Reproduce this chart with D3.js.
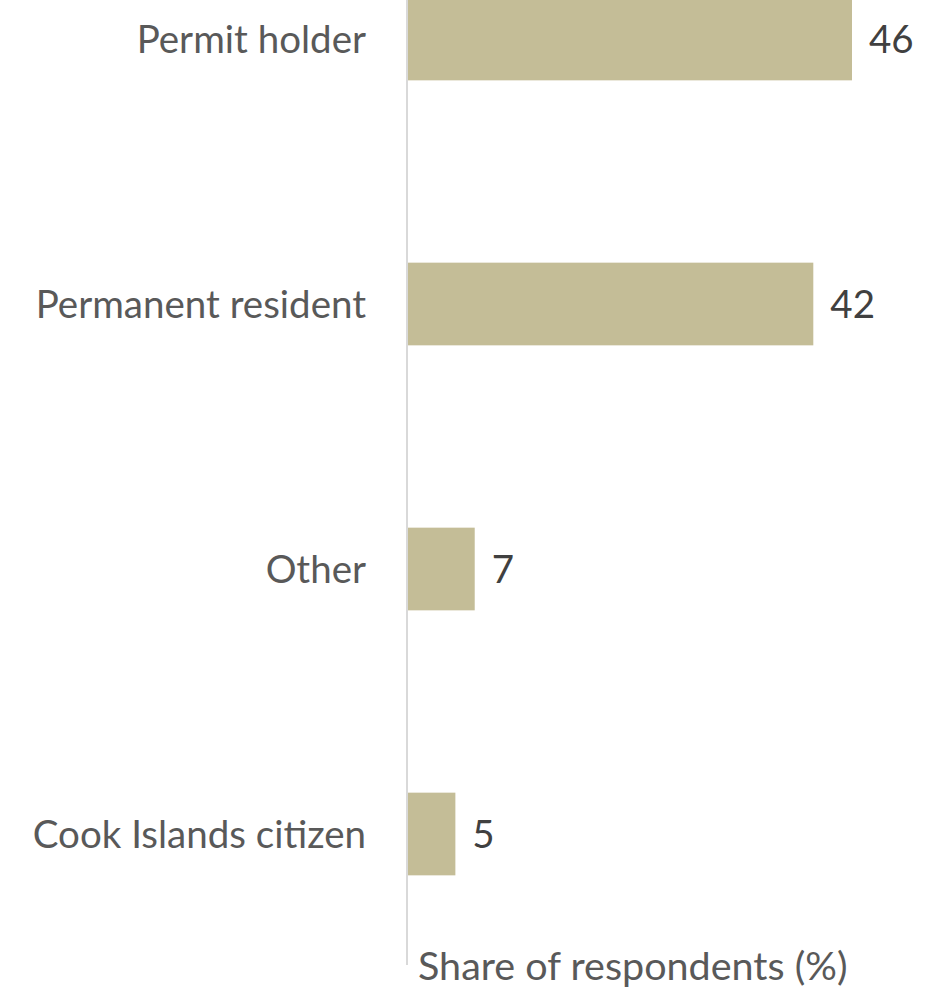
<!DOCTYPE html>
<html>
<head>
<meta charset="utf-8">
<script src="https://cdn.jsdelivr.net/npm/d3@7"></script>
<style>
  html, body { margin: 0; padding: 0; background: #fff; }
  svg { display: block; }
  text { font-family: Lato, "Open Sans", sans-serif; fill: #595959; }
</style>
</head>
<body>
<svg id="chart" width="946" height="991"></svg>
<script>
// Residency status of respondents
const categories = ["Permit holder", "Permanent resident", "Other", "Cook Islands citizen"];
const shares = [46, 42, 7, 5];
const axisTitle = "Share of respondents (%)";

const W = 946, H = 991;
const x0 = 407;
const svg = d3.select("#chart");

const x = d3.scaleLinear().domain([0, 46]).range([x0, x0 + 445]);
const y = d3.scaleBand()
  .domain(categories)
  .range([-93.5, 966.5])
  .paddingInner(0.688)
  .paddingOuter(0.344);

// bars
svg.append("g").selectAll("rect")
  .data(categories)
  .join("rect")
  .attr("x", x(0) + 1)
  .attr("y", d => y(d))
  .attr("width", (d, i) => x(shares[i]) - x(0) - 1)
  .attr("height", y.bandwidth())
  .attr("fill", "#c4bd97");

// vertical axis line
svg.append("line")
  .attr("x1", x0).attr("x2", x0)
  .attr("y1", 0).attr("y2", 965)
  .attr("stroke", "#d9d9d9")
  .attr("stroke-width", 2);

// category labels
svg.append("g").selectAll("text")
  .data(categories)
  .join("text")
  .attr("x", x0 - 41)
  .attr("y", d => y(d) + y.bandwidth() / 2)
  .attr("dy", "0.36em")
  .attr("text-anchor", "end")
  .attr("font-size", 38.5)
  .text(d => d);

// value labels
svg.append("g").selectAll("text")
  .data(categories)
  .join("text")
  .attr("x", (d, i) => x(shares[i]) + 17)
  .attr("y", d => y(d) + y.bandwidth() / 2)
  .attr("dy", "0.36em")
  .attr("font-size", 38.5)
  .style("fill", "#404040")
  .text((d, i) => shares[i]);

// axis title
svg.append("text")
  .attr("x", 418)
  .attr("y", 980)
  .attr("font-size", 39.5)
  .text(axisTitle);
</script>
</body>
</html>
